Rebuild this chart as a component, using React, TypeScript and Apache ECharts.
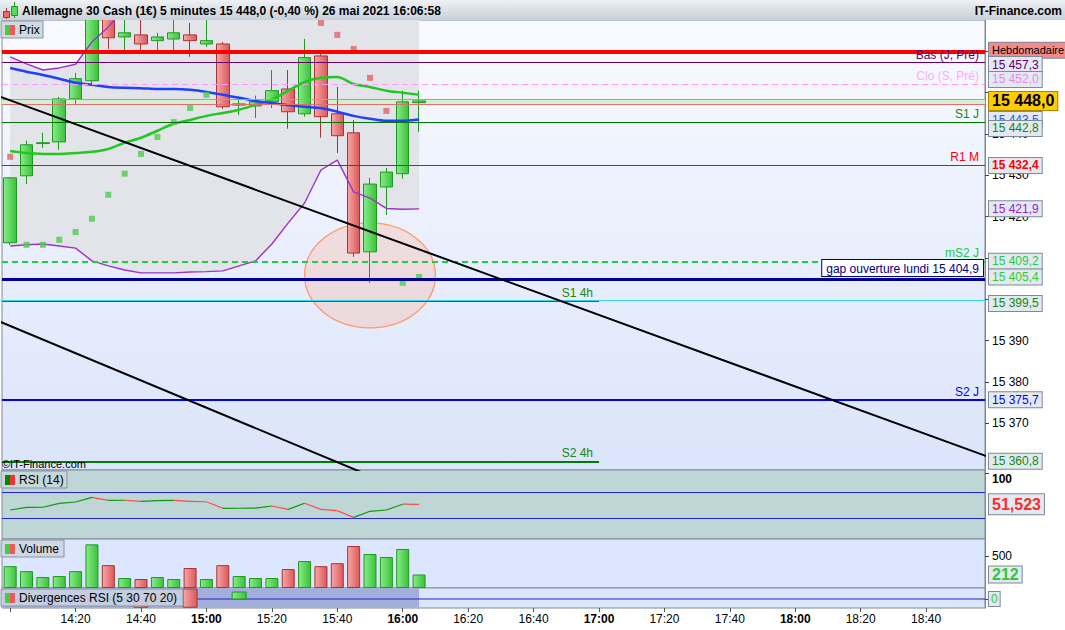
import React, { useEffect, useRef } from "react";
import * as echarts from "echarts";

const FONT = "'Liberation Sans', Arial, Helvetica, sans-serif";

const TITLE = "Allemagne 30 Cash (1€) 5 minutes 15 448,0 (-0,40 %) 26 mai 2021 16:06:58";
const SITE = "IT-Finance.com";
const COPYRIGHT = "©IT-Finance.com";

// ---------------- data ----------------
const TIME_LABELS = ["14:00","14:05","14:10","14:15","14:20","14:25","14:30","14:35","14:40","14:45","14:50","14:55","15:00","15:05","15:10","15:15","15:20","15:25","15:30","15:35","15:40","15:45","15:50","15:55","16:00","16:05"];
const OPEN  = [15413.7,15429.9,15437.7,15438.1,15448.5,15452.9,15469.5,15463.5,15464.0,15462.6,15463.0,15464.0,15461.8,15461.8,15447.0,15446.8,15447.8,15450.9,15444.9,15458.9,15444.9,15440.3,15411.5,15427.2,15430.4,15447.6];
const CLOSE = [15429.4,15437.4,15437.9,15448.5,15453.4,15469.5,15463.3,15464.5,15461.8,15463.5,15464.5,15462.6,15462.6,15446.6,15447.3,15447.8,15450.5,15445.4,15458.5,15444.2,15439.6,15411.2,15427.9,15430.8,15447.8,15448.0];
const LOW   = [15413.2,15427.9,15436.7,15436.2,15447.3,15451.9,15460.6,15460.1,15460.1,15460.1,15460.1,15458.7,15461.1,15446.1,15444.6,15443.9,15446.3,15441.3,15444.2,15439.1,15435.4,15410.3,15404.0,15420.4,15429.2,15440.5];
const HIGH  = [15429.6,15438.4,15440.3,15449.0,15454.8,15471.0,15472.0,15470.0,15469.0,15464.5,15469.0,15466.9,15468.0,15462.3,15449.0,15449.3,15455.5,15455.5,15463.0,15459.4,15451.4,15443.4,15429.4,15431.8,15450.5,15450.5];
const VOLUME = [343,265,173,188,265,686,359,157,141,173,141,314,141,359,188,157,157,298,424,343,390,660,534,487,613,212];
const MA_GREEN = [15435.9,15435.4,15435.2,15435.2,15435.4,15435.7,15436.4,15437.9,15439.1,15440.8,15442.5,15443.4,15444.4,15445.1,15445.9,15447.1,15448.3,15450.5,15452.6,15453.6,15453.8,15452.1,15451.4,15450.5,15450.0,15449.5];
const MA_BLUE = [15456.0,15455.1,15454.3,15453.4,15452.4,15451.9,15451.4,15451.2,15451.1,15450.9,15450.9,15450.7,15450.2,15449.5,15448.8,15448.0,15447.5,15447.0,15446.6,15446.3,15445.4,15444.4,15443.7,15443.2,15443.2,15443.5];
const BB_UPPER = [15458.7,15457.0,15455.5,15456.0,15456.9,15462.3,15465.9,15470.5,15472.5,15474.0,15475.0,15475.5,15475.5,15475.0,15474.0,15473.0,15472.0,15471.5,15471.0,15470.5,15470.0,15469.8,15470.5,15472.0,15474.5,15475.0];
const BB_LOWER = [15412.9,15413.2,15413.4,15412.9,15412.4,15409.3,15408.1,15407.1,15406.4,15406.4,15406.4,15406.6,15406.7,15406.9,15408.1,15409.3,15413.4,15418.5,15423.3,15431.3,15433.7,15426.0,15424.5,15422.0,15421.8,15421.9];
const SAR = [15434.5,15413.2,15413.2,15414.4,15416.3,15419.5,15425.3,15430.4,15435.2,15439.3,15442.9,15446.3,15449.5,15472.0,15471.4,15470.8,15470.1,15469.3,15468.2,15466.9,15464.0,15460.6,15453.6,15445.6,15404.0,15405.4];
const RSI = [42.8,46.9,47.0,53.1,55.1,62.3,57.7,57.8,56.2,57.1,57.7,56.2,55.5,45.4,45.5,45.6,48.9,43.8,53.1,43.8,41.7,31.5,40.8,42.8,51.7,51.523];
const RSI_BANDS = [70, 30];

const DIV_TIMES = ["14:40","14:55","15:10"];
const DIV_LOW = [-1.1,-1.1,0];
const DIV_HIGH = [0,1.33,0.93];

const X_TICKS = ["14:00","14:20","14:40","15:00","15:20","15:40","16:00","16:20","16:40","17:00","17:20","17:40","18:00","18:20","18:40"];
const X_LABELS = X_TICKS.slice(1);
const PRICE_TICKS = [15370,15380,15390,15400,15410,15420,15430,15440,15450,15460];
const PRICE_LABELS = [15370,15380,15390,15420,15430,15440];
const RSI_TICKS = [100];
const VOLUME_TICKS = [500];

const LEVEL_NAMES = ["Hebdomadaire","Bas (J, Pré)","Clo (S, Pré)","S1 J","R1 M","mS2 J","gap ouverture lundi","S1 4h","S2 J","S2 4h"];
const LEVEL_VALUES = [15459.8,15457.3,15452.0,15442.8,15432.4,15409.2,15404.9,15399.5,15375.7,15360.8];
const LEVEL_ENDS = [null,null,null,null,null,null,null,"17:00",null,"17:00"];
const CYAN_LEVEL = 15399.9;
const LAST_PRICE = 15448.0;
const BID = 15447.2;
const ASK = 15448.4;

const TREND_A = [["13:55",15449.6],["19:00",15361.6]];
const TREND_B = [["13:55",15395.2],["16:00",15354.0]];
const CIRCLE_CENTER: [string, number] = ["15:50", 15405.8];
const CIRCLE_HALF = [20, 12.7]; // minutes, points

// ---------------- helpers ----------------
const X_MIN = -2.5, X_MAX = 298;
const P_MIN = 15358.7, P_MAX = 15467.6;
const PRICE_H = 450;

function toMin(label: string): number {
  const [h, m] = label.split(":").map(Number);
  return (h - 14) * 60 + m;
}
const TIMES = TIME_LABELS.map(toMin);

function fmtNum(v: number, dec: number): string {
  const s = v.toFixed(dec);
  const [ip, dp] = s.split(".");
  const neg = ip.startsWith("-");
  const digits = neg ? ip.slice(1) : ip;
  const grouped = digits.replace(/\B(?=(\d{3})+(?!\d))/g, " ");
  return (neg ? "-" : "") + grouped + (dp ? "," + dp : "");
}
function fmtTime(m: number): string {
  const h = 14 + Math.floor(m / 60);
  const mm = ((m % 60) + 60) % 60;
  return `${h}:${String(mm).padStart(2, "0")}`;
}
const pxToPts = (px: number) => -px * (P_MAX - P_MIN) / PRICE_H;

function buildOption(): any {
  const G = echarts.graphic;
  const greenFill = new G.LinearGradient(0, 0, 1, 0, [{ offset: 0, color: "#86ec86" }, { offset: 1, color: "#3cc13c" }]);
  const redFill = new G.LinearGradient(0, 0, 1, 0, [{ offset: 0, color: "#f8a6a6" }, { offset: 1, color: "#da5858" }]);
  const GREEN_EDGE = "#1f9a1f", RED_EDGE = "#a83434";
  const BORDER = "#7d8b99";

  const grids = [
    { left: 2, top: 20, width: 983, height: 450, show: true, borderColor: BORDER, borderWidth: 1,
      backgroundColor: new G.LinearGradient(0, 0, 0, 1, [{ offset: 0, color: "#f8faff" }, { offset: 1, color: "#dbe4fa" }]) },
    { left: 2, top: 470, width: 983, height: 69, show: true, borderColor: BORDER, borderWidth: 1, backgroundColor: "#bfd6d6" },
    { left: 2, top: 539, width: 983, height: 49, show: true, borderColor: BORDER, borderWidth: 1, backgroundColor: "#dce6fe" },
    { left: 2, top: 588, width: 983, height: 20, show: true, borderColor: BORDER, borderWidth: 1, backgroundColor: "#dce6fe" },
  ];

  const xAxes = [0, 1, 2, 3].map((i) => ({
    type: "value", gridIndex: i, min: X_MIN, max: X_MAX, show: i === 3, position: "bottom",
    splitLine: { show: false }, axisLine: { show: false, onZero: false },
    axisTick: { show: i === 3, length: 4, lineStyle: { color: "#555" }, customValues: X_TICKS.map(toMin) },
    axisLabel: {
      show: i === 3, customValues: X_LABELS.map(toMin), margin: 5, fontSize: 12, color: "#000", fontFamily: FONT,
      formatter: (v: number) => (v % 60 === 0 ? `{b|${fmtTime(v)}}` : fmtTime(v)),
      rich: { b: { fontWeight: "bold", fontSize: 12, color: "#000", fontFamily: FONT } },
    },
  }));

  const yBase = (i: number, min: number, max: number, ticks: number[], labels: number[], fmt: (v: number) => string, bold = false, va = "middle") => ({
    type: "value", gridIndex: i, position: "right", min, max,
    splitLine: { show: false },
    axisLine: { show: true, onZero: false, lineStyle: { color: BORDER } },
    axisTick: { show: true, length: 4, lineStyle: { color: "#444" }, customValues: ticks },
    axisLabel: { customValues: labels, formatter: fmt, fontSize: 12, color: "#000", margin: 7, fontFamily: FONT,
      fontWeight: bold ? "bold" : "normal", verticalAlign: va },
  });
  const yAxes = [
    yBase(0, P_MIN, P_MAX, PRICE_TICKS, PRICE_LABELS, (v) => fmtNum(v, 0)),
    yBase(1, -1.8, 104.3, RSI_TICKS, RSI_TICKS, (v) => String(v), true, "top"),
    yBase(2, 0, 770, VOLUME_TICKS, VOLUME_TICKS, (v) => String(v)),
    yBase(3, -1.2, 1.47, [0], [], (v) => String(v)),
  ];

  // ---- level lines and value boxes ----
  const LS: Record<string, any> = {
    "Hebdomadaire": { line: "#ff0000", width: 4, box: { text: "Hebdomadaire", bg: "#f28a8a", color: "#000", size: 11, nudge: -2 } },
    "Bas (J, Pré)": { line: "#660066", width: 1, name: "#660066", box: { color: "#660066", nudge: 2 } },
    "Clo (S, Pré)": { line: "#ff99ff", width: 1, dash: true, name: "#ffaaff", box: { color: "#e38ee3", nudge: -5 } },
    "S1 J": { line: "#007700", width: 1, name: "#118811", box: { color: "#118811", nudge: 6 } },
    "R1 M": { line: "#ff0000", width: 1, name: "#ff0000", box: { color: "#ff0000", bold: true } },
    "mS2 J": { line: "#22cc44", width: 2, dash: true, name: "#22cc44", box: { color: "#22cc44" } },
    "gap ouverture lundi": { line: "#000099", width: 3, gap: true },
    "S1 4h": { line: "#008800", width: 1, name: "#118811", box: { color: "#118811", nudge: 2 } },
    "S2 J": { line: "#0000ff", width: 2, name: "#0000ff", box: { color: "#0000ff" } },
    "S2 4h": { line: "#008000", width: 2, name: "#118811", box: { color: "#118811" } },
  };
  const boxLabel = (text: string, color: string, opts: any = {}) => ({
    show: true, position: "end", distance: 4, formatter: text, color, opacity: 1,
    fontSize: opts.size || 12, fontWeight: opts.bold ? "bold" : "normal", fontFamily: FONT,
    backgroundColor: opts.bg || "#e3e9f2", borderColor: opts.border || BORDER, borderWidth: 1,
    padding: opts.padding || [1, 3, 1, 3], lineHeight: opts.lh || 13,
  });
  const hidden = { color: "rgba(0,0,0,0)", width: 1, opacity: 1, type: "solid" };

  const lineItems: any[] = [];
  lineItems.push({ yAxis: ASK, lineStyle: { color: "#66cc66", width: 1, type: "solid" }, label: { show: false } });
  lineItems.push({ yAxis: BID, lineStyle: { color: "#e07070", width: 1, type: "solid" }, label: { show: false } });
  lineItems.push({ yAxis: CYAN_LEVEL, lineStyle: { color: "#33d6ee", width: 1, type: "solid" }, label: { show: false } });
  LEVEL_NAMES.forEach((name, i) => {
    const st = LS[name];
    const v = LEVEL_VALUES[i];
    const lineStyle = { color: st.line, width: st.width, type: st.dash ? [6, 4] : "solid" };
    let label: any = { show: false };
    if (st.name) {
      label = { show: true, position: "insideEndTop", distance: [6, 2], formatter: name, color: st.name, fontSize: 12, fontFamily: FONT };
    } else if (st.gap) {
      label = { show: true, position: "insideEndTop", distance: [2, 3], formatter: `${name} ${fmtNum(v, 1)}`, color: "#000080",
        fontSize: 12, fontFamily: FONT, backgroundColor: "#ffffff", borderColor: "#000080", borderWidth: 1, padding: [2, 4, 1, 4], lineHeight: 13 };
    }
    const end = LEVEL_ENDS[i];
    if (end) {
      lineItems.push([{ coord: [X_MIN, v], lineStyle, label }, { coord: [toMin(end), v] }]);
    } else {
      lineItems.push({ yAxis: v, lineStyle, label });
    }
  });
  const boxItem = (v: number, label: any, nudge = 0) => ({ yAxis: v + pxToPts(nudge), lineStyle: hidden, label });
  const idx = (n: string) => LEVEL_NAMES.indexOf(n);
  const levelBox = (n: string) => {
    const st = LS[n].box;
    const v = LEVEL_VALUES[idx(n)];
    return boxItem(v, boxLabel(st.text || fmtNum(v, 1), st.color, { bold: st.bold, bg: st.bg, size: st.size }), st.nudge || 0);
  };
  const last = TIMES.length - 1;
  lineItems.push(levelBox("Hebdomadaire"));
  lineItems.push(levelBox("Bas (J, Pré)"));
  lineItems.push(levelBox("Clo (S, Pré)"));
  lineItems.push(boxItem(LAST_PRICE, boxLabel(fmtNum(LAST_PRICE, 1), "#000", { size: 16, bold: true, bg: "#ffcc00", border: "#a88600", lh: 16 })));
  lineItems.push(boxItem(MA_BLUE[last], boxLabel(fmtNum(MA_BLUE[last], 1), "#2255ff")));
  lineItems.push(levelBox("S1 J"));
  lineItems.push(levelBox("R1 M"));
  lineItems.push(boxItem(BB_LOWER[last], boxLabel(fmtNum(BB_LOWER[last], 1), "#9922cc")));
  lineItems.push(levelBox("mS2 J"));
  lineItems.push(boxItem(SAR[last], boxLabel(fmtNum(SAR[last], 1), "#33cc33")));
  lineItems.push(levelBox("S1 4h"));
  lineItems.push(levelBox("S2 J"));
  lineItems.push(levelBox("S2 4h"));

  const lineSeries = (name: string, values: number[], color: string, width: number, smooth: any = false, z = 4) => ({
    type: "line", name, xAxisIndex: 0, yAxisIndex: 0, z, smooth, showSymbol: false, symbol: "none", silent: true,
    data: TIMES.map((t, i) => [t, values[i]]), lineStyle: { color, width }, clip: true,
  });

  const series: any[] = [
    {
      type: "custom", name: "bandFill", xAxisIndex: 0, yAxisIndex: 0, z: 0, clip: true, silent: true,
      data: [[TIMES[0], BB_LOWER[0]]],
      renderItem: (_p: any, api: any) => {
        const up = TIMES.map((t, i) => api.coord([t, BB_UPPER[i]]));
        const lo = TIMES.map((t, i) => api.coord([t, BB_LOWER[i]])).reverse();
        return { type: "polygon", shape: { points: up.concat(lo) }, style: { fill: "#e3e4ea" } };
      },
    },
    {
      type: "custom", name: "circle", xAxisIndex: 0, yAxisIndex: 0, z: 1, clip: true, silent: true,
      data: [[toMin(CIRCLE_CENTER[0]), CIRCLE_CENTER[1]]],
      renderItem: (_p: any, api: any) => {
        const c = api.coord([api.value(0), api.value(1)]);
        const s = api.size([CIRCLE_HALF[0], CIRCLE_HALF[1]]);
        return { type: "ellipse", shape: { cx: c[0], cy: c[1], rx: s[0], ry: s[1] },
          style: { fill: "rgba(255,165,135,0.26)", stroke: "#ff9a66", lineWidth: 1.3 } };
      },
    },
    {
      type: "candlestick", name: "Prix", xAxisIndex: 0, yAxisIndex: 0, z: 3, barWidth: 13, clip: true, silent: true,
      dimensions: ["t", "open", "close", "low", "high"],
      encode: { x: 0, y: [1, 2, 3, 4] },
      data: TIMES.map((t, i) => [t, OPEN[i], CLOSE[i], LOW[i], HIGH[i]]),
      itemStyle: { color: greenFill, color0: redFill, borderColor: GREEN_EDGE, borderColor0: RED_EDGE, borderWidth: 1 },
      markArea: {
        silent: true, z: 1,
        itemStyle: { color: "#d6efd0" },
        data: [[{ yAxis: BID }, { yAxis: ASK }]],
      },
      markLine: { silent: true, symbol: ["none", "none"], z: 5, animation: false, data: lineItems },
    },
    lineSeries("BB haut", BB_UPPER, "#9b33cc", 1.4),
    lineSeries("BB bas", BB_LOWER, "#9b33cc", 1.4),
    lineSeries("MM verte", MA_GREEN, "#22c822", 2.5, 0.3),
    lineSeries("MM bleue", MA_BLUE, "#1f40ff", 2.5, 0.3),
    {
      type: "scatter", name: "SAR", xAxisIndex: 0, yAxisIndex: 0, z: 4, symbol: "rect", symbolSize: 6, clip: true, silent: true,
      data: TIMES.map((t, i) => ({ value: [t, SAR[i]], itemStyle: { color: SAR[i] > CLOSE[i] ? "#e06464" : "#4ccc4c" } })),
    },
    ...[TREND_A, TREND_B].map((tr: any, k) => ({
      type: "line", name: "trend" + k, xAxisIndex: 0, yAxisIndex: 0, z: 6, showSymbol: false, symbol: "none", silent: true, clip: true,
      data: tr.map((p: any) => [toMin(p[0]), p[1]]), lineStyle: { color: "#000", width: 2 },
    })),
    {
      type: "custom", name: "RSI", xAxisIndex: 1, yAxisIndex: 1, z: 3, clip: true, silent: true,
      data: TIMES.slice(1).map((t, i) => [TIMES[i], RSI[i], t, RSI[i + 1]]),
      encode: { x: [0, 2], y: [1, 3] },
      renderItem: (_p: any, api: any) => {
        const a = api.coord([api.value(0), api.value(1)]);
        const b = api.coord([api.value(2), api.value(3)]);
        const up = api.value(3) >= api.value(1);
        return { type: "line", shape: { x1: a[0], y1: a[1], x2: b[0], y2: b[1] },
          style: { stroke: up ? "#0a990a" : "#ff4a4a", lineWidth: 1.2 } };
      },
    },
    {
      type: "line", name: "RSI levels", xAxisIndex: 1, yAxisIndex: 1, z: 2, showSymbol: false, symbol: "none", silent: true,
      data: TIMES.map((t, i) => [t, RSI[i]]), lineStyle: { opacity: 0, width: 0 },
      markLine: {
        silent: true, symbol: ["none", "none"], z: 5,
        data: [
          ...RSI_BANDS.map((v) => ({ yAxis: v, lineStyle: { color: "#2323dd", width: 1, type: "solid", opacity: 1 }, label: { show: false } })),
          { yAxis: RSI[last], lineStyle: hidden,
            label: boxLabel(RSI[last].toFixed(3).replace(".", ","), "#ff2a2a", { size: 16, bold: true, padding: [1, 3, 1, 3], lh: 18 }) },
        ],
      },
    },
    {
      type: "bar", name: "Volume", xAxisIndex: 2, yAxisIndex: 2, z: 3, barWidth: 13, silent: true,
      data: TIMES.map((t, i) => {
        const up = CLOSE[i] >= OPEN[i];
        return { value: [t, VOLUME[i]], itemStyle: { color: up ? greenFill : redFill, borderColor: up ? GREEN_EDGE : RED_EDGE, borderWidth: 1 } };
      }),
      markLine: {
        silent: true, symbol: ["none", "none"], z: 5,
        data: [{ yAxis: VOLUME[last], lineStyle: hidden, label: boxLabel(String(VOLUME[last]), "#33c833", { size: 16, bold: true, lh: 14 }) }],
      },
    },
    {
      type: "line", name: "Div zero", xAxisIndex: 3, yAxisIndex: 3, z: 2, showSymbol: false, symbol: "none", silent: true,
      data: [[X_MIN, 0], [X_MAX, 0]], lineStyle: { color: "#2323cc", width: 1 },
      markArea: { silent: true, z: 1, itemStyle: { color: "#a4aedb" }, data: [[{ xAxis: X_MIN }, { xAxis: TIMES[last] }]] },
      markLine: {
        silent: true, symbol: ["none", "none"], z: 5,
        data: [{ yAxis: 0, lineStyle: hidden, label: boxLabel("0", "#33c833", { padding: [1, 2, 0, 2] }) }],
      },
    },
    {
      type: "custom", name: "Divergences RSI", xAxisIndex: 3, yAxisIndex: 3, z: 3, clip: true, silent: true,
      data: DIV_TIMES.map((t, i) => [toMin(t), DIV_LOW[i], DIV_HIGH[i]]),
      encode: { x: 0, y: [1, 2] },
      renderItem: (_p: any, api: any) => {
        const top = api.coord([api.value(0), api.value(2)]);
        const bot = api.coord([api.value(0), api.value(1)]);
        const bear = api.value(1) < 0;
        return { type: "rect", shape: { x: top[0] - 7, y: top[1], width: 14, height: bot[1] - top[1] },
          style: { fill: bear ? redFill : greenFill, stroke: bear ? RED_EDGE : GREEN_EDGE, lineWidth: 1 } };
      },
    },
  ];

  const Z = 100;
  const legendBox = (x: number, y: number, w: number, text: string, c1: string, c2: string, bg: string) => [
    { type: "rect", z: Z, silent: true, shape: { x, y, width: w, height: 17 }, style: { fill: bg, stroke: "#8494a4", lineWidth: 1 } },
    { type: "rect", z: Z + 1, silent: true, shape: { x: x + 4, y: y + 4, width: 5, height: 10 }, style: { fill: c1 } },
    { type: "rect", z: Z + 1, silent: true, shape: { x: x + 9, y: y + 4, width: 5, height: 10 }, style: { fill: c2 } },
    { type: "text", z: Z + 1, silent: true, x: x + 18, y: y + 9,
      style: { text, fontSize: 12, fontFamily: FONT, fill: "#000", verticalAlign: "middle", align: "left" } },
  ];

  const graphic = [
    { type: "rect", z: Z, silent: true, shape: { x: 0, y: 0, width: 1065, height: 20 },
      style: { fill: new G.LinearGradient(0, 0, 0, 1, [{ offset: 0, color: "#eef1f5" }, { offset: 1, color: "#c8d0da" }]) } },
    { type: "line", z: Z + 1, silent: true, shape: { x1: 6.5, y1: 8, x2: 6.5, y2: 19 }, style: { stroke: "#a83434", lineWidth: 1 } },
    { type: "rect", z: Z + 2, silent: true, shape: { x: 3.5, y: 11.5, width: 6, height: 6 }, style: { fill: "#ee6b6b", stroke: "#a83434", lineWidth: 1 } },
    { type: "line", z: Z + 1, silent: true, shape: { x1: 14.5, y1: 2, x2: 14.5, y2: 18 }, style: { stroke: "#1f9a1f", lineWidth: 1 } },
    { type: "rect", z: Z + 2, silent: true, shape: { x: 11.5, y: 6.5, width: 6, height: 9 }, style: { fill: "#55dd55", stroke: "#1f9a1f", lineWidth: 1 } },
    { type: "text", z: Z + 2, silent: true, x: 22, y: 11,
      style: { text: TITLE, fontSize: 12, fontWeight: "bold", fontFamily: FONT, fill: "#000", verticalAlign: "middle", align: "left" } },
    { type: "text", z: Z + 2, silent: true, x: 1062, y: 11,
      style: { text: SITE, fontSize: 12, fontWeight: "bold", fontFamily: FONT, fill: "#000", verticalAlign: "middle", align: "right" } },
    ...legendBox(1, 21, 42, "Prix", "#44cc44", "#ee5a5a", "rgba(205,213,222,0.9)"),
    ...legendBox(1, 471, 66, "RSI (14)", "#008800", "#ee3333", "rgba(200,214,216,0.9)"),
    ...legendBox(1, 540, 63, "Volume", "#44cc44", "#ee5a5a", "rgba(205,213,228,0.9)"),
    ...legendBox(1, 589, 182, "Divergences RSI (5 30 70 20)", "#44cc44", "#ee5a5a", "rgba(200,208,224,0.92)"),
    { type: "text", z: Z, silent: true, x: 2, y: 464,
      style: { text: COPYRIGHT, fontSize: 11, fontFamily: FONT, fill: "#000", verticalAlign: "middle", align: "left" } },
  ];

  return {
    animation: false,
    backgroundColor: "#ffffff",
    textStyle: { fontFamily: FONT },
    grid: grids,
    xAxis: xAxes,
    yAxis: yAxes,
    series,
    graphic,
  };
}

export default function App() {
  const ref = useRef<HTMLDivElement>(null);
  useEffect(() => {
    if (!ref.current) return;
    const chart = echarts.init(ref.current, null, { renderer: "svg" });
    chart.setOption(buildOption());
    return () => chart.dispose();
  }, []);
  return <div ref={ref} style={{ position: "fixed", left: 0, top: 0, width: 1065, height: 630 }} />;
}
